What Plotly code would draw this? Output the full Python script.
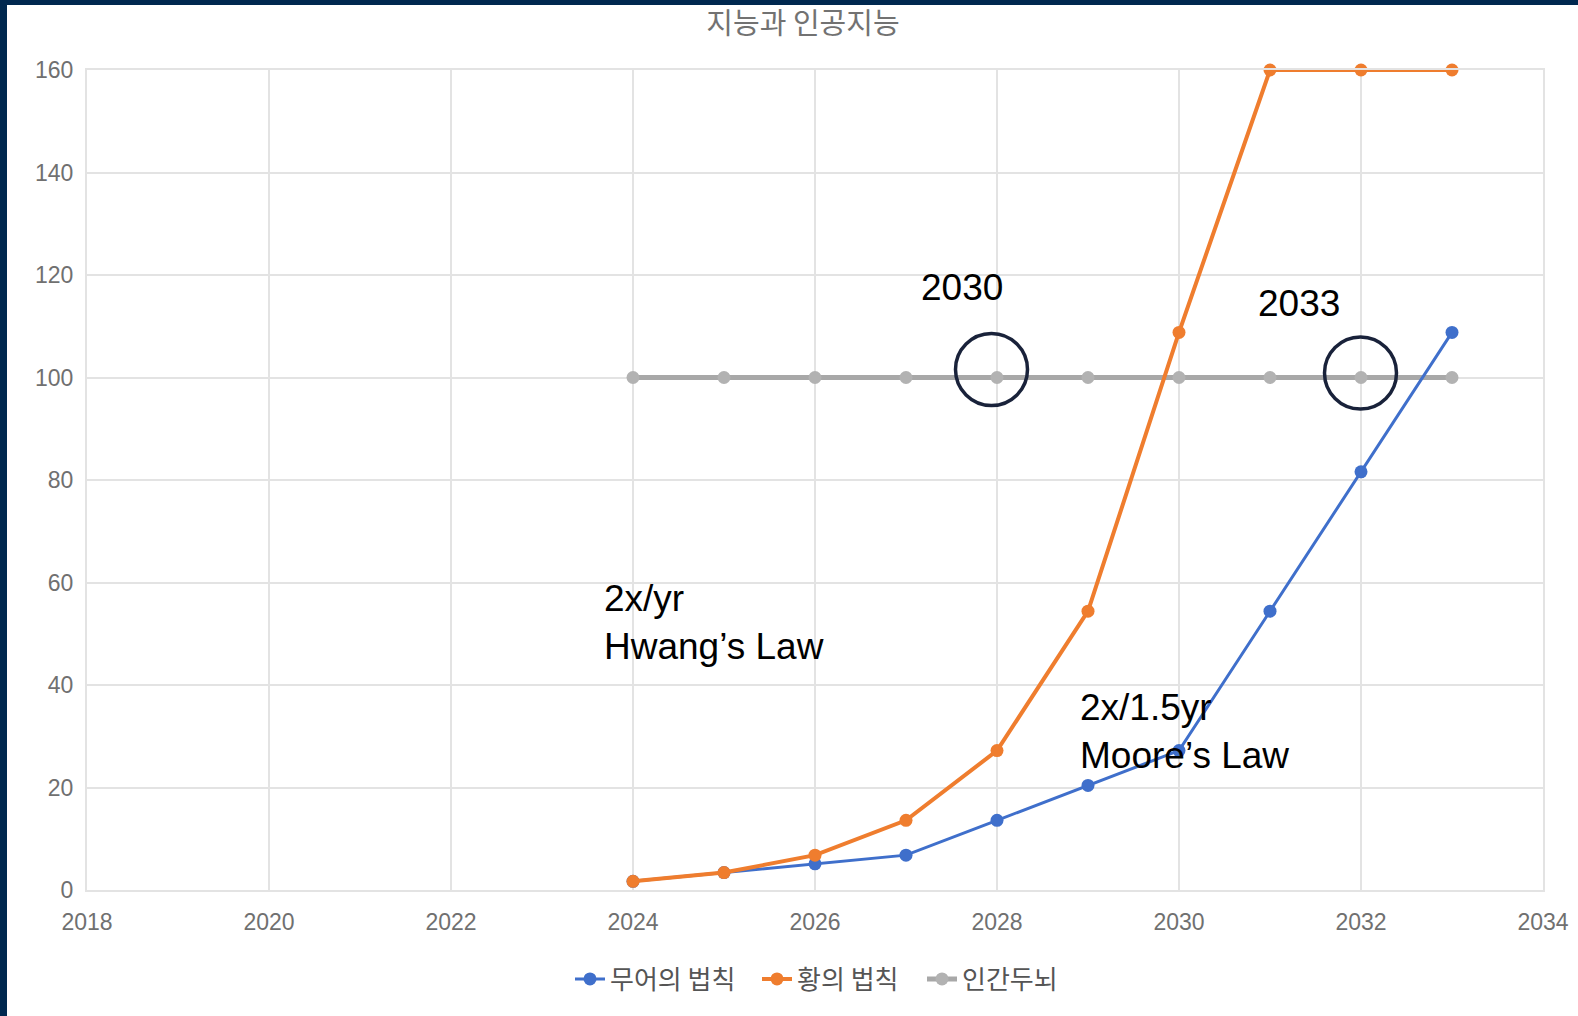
import plotly.graph_objects as go

# ---- data ----
years = [2024, 2025, 2026, 2027, 2028, 2029, 2030, 2031, 2032, 2033]
moore = [1.7, 3.4, 5.1, 6.8, 13.6, 20.4, 27.2, 54.4, 81.6, 108.8]
hwang = [1.7, 3.4, 6.8, 13.6, 27.2, 54.4, 108.8, 160, 160, 160]
brain = [100, 100, 100, 100, 100, 100, 100, 100, 100, 100]
series_names = ["무어의 법칙", "황의 법칙", "인간두뇌"]
title_text = "지능과 인공지능"
x_ticks = [2018, 2020, 2022, 2024, 2026, 2028, 2030, 2032, 2034]
y_ticks = [0, 20, 40, 60, 80, 100, 120, 140, 160]

W, H = 1578, 1016
L, R, T, B = 87, 35, 70, 126
pw, ph = W - L - R, H - T - B

BLUE = "#3f6fcb"
ORANGE = "#ef7d2e"
GRAY = "#a8a8a8"
NAVY = "#00284f"
GRID = "#e3e3e3"
TICK = "#707070"

fig = go.Figure()
fig.add_trace(go.Scatter(x=years, y=brain, name=series_names[2], mode="lines+markers",
                         line=dict(color=GRAY, width=5), marker=dict(color="#b2b2b2", size=13),
                         legend="legend3", cliponaxis=False))
fig.add_trace(go.Scatter(x=years, y=moore, name=series_names[0], mode="lines+markers",
                         line=dict(color=BLUE, width=3), marker=dict(color=BLUE, size=13),
                         legend="legend", cliponaxis=False))
fig.add_trace(go.Scatter(x=years, y=hwang, name=series_names[1], mode="lines+markers",
                         line=dict(color=ORANGE, width=4), marker=dict(color=ORANGE, size=13),
                         legend="legend2", cliponaxis=False))

def px_x(p):
    return x_ticks[0] + (p - L) / pw * (x_ticks[-1] - x_ticks[0])

def px_y(p):
    return (T + ph - p) / ph * (y_ticks[-1] - y_ticks[0])

shapes = []
# navy frame on left and top (pixel positions converted to paper coords)
shapes.append(dict(type="rect", xref="paper", yref="paper", layer="above",
                   x0=(0 - L) / pw, x1=(7 - L) / pw, y0=(T + ph - H) / ph, y1=(T + ph) / ph,
                   fillcolor=NAVY, line=dict(width=0)))
shapes.append(dict(type="rect", xref="paper", yref="paper", layer="above",
                   x0=(0 - L) / pw, x1=(W - L) / pw, y0=(T + ph - 5) / ph, y1=(T + ph) / ph,
                   fillcolor=NAVY, line=dict(width=0)))
# circles
rx, ry = 36 / pw * 16, 36 / ph * 160
for cx, cy in [(991.5, 369.5), (1360.5, 373)]:
    xc, yc = px_x(cx), px_y(cy)
    shapes.append(dict(type="circle", xref="x", yref="y", x0=xc - rx, x1=xc + rx,
                       y0=yc - ry, y1=yc + ry, line=dict(color="#19223a", width=3.5)))

ann_font = dict(family="Liberation Sans, Arial", size=37, color="#000000")
annotations = []
for txt, px, py in [("2030", 919, 287), ("2033", 1256, 303),
                    ("2x/yr<br>Hwang’s Law", 602, 622), ("2x/1.5yr<br>Moore’s Law", 1078, 731)]:
    annotations.append(dict(text=txt, x=px_x(px), y=px_y(py), xref="x", yref="y",
                            xanchor="left", yanchor="middle", align="left",
                            showarrow=False, font=ann_font))

leg_font = dict(family="Noto Sans CJK KR", size=26, color="#555555")
leg_y = -(979 - (T + ph)) / ph

def leg(px_left):
    return dict(orientation="h", x=(px_left - L) / pw, xanchor="left", y=leg_y, yanchor="middle",
                font=leg_font, itemwidth=30, bgcolor="rgba(0,0,0,0)")

fig.update_layout(
    width=W, height=H,
    margin=dict(l=L, r=R, t=T, b=B, pad=0),
    paper_bgcolor="white", plot_bgcolor="white",
    title=dict(text=title_text, x=803 / W, xanchor="center", y=1 - 24 / H, yanchor="middle",
               font=dict(family="Noto Sans CJK KR", size=29, color="#727272")),
    xaxis=dict(range=[x_ticks[0], x_ticks[-1]], tickvals=x_ticks, ticktext=[str(v) for v in x_ticks],
               showgrid=True, gridcolor=GRID, gridwidth=2, zeroline=False, automargin=False,
               showline=True, linecolor=GRID, linewidth=2, mirror=True,
               ticks="", ticklabelstandoff=10,
               tickfont=dict(family="Liberation Sans, Arial", size=23, color=TICK)),
    yaxis=dict(range=[y_ticks[0], y_ticks[-1]], tickvals=y_ticks, ticktext=[str(v) for v in y_ticks],
               showgrid=True, gridcolor=GRID, gridwidth=2, zeroline=False, automargin=False,
               showline=True, linecolor=GRID, linewidth=2, mirror=True,
               ticks="", ticklabelstandoff=7,
               tickfont=dict(family="Liberation Sans, Arial", size=23, color=TICK)),
    legend=leg(570),
    legend2=leg(757),
    legend3=leg(922),
    shapes=shapes,
    annotations=annotations,
    showlegend=True,
)

fig.write_html("out.html")
